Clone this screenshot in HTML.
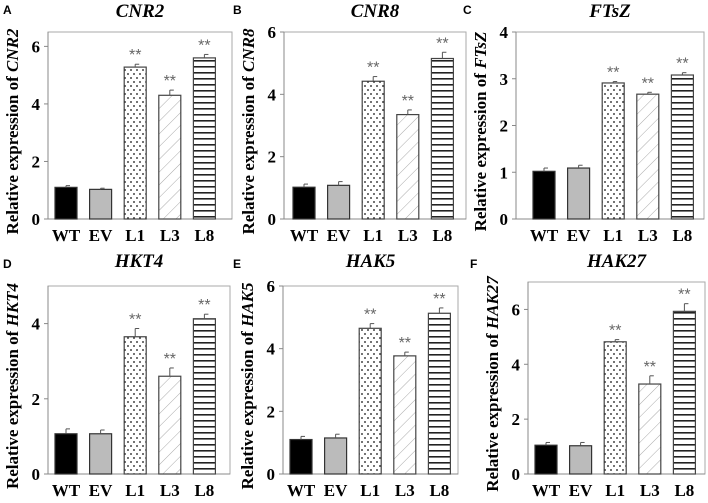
<!DOCTYPE html>
<html><head><meta charset="utf-8"><style>
body{margin:0;background:#fff}
svg{display:block;font-family:"Liberation Serif",serif}
</style></head><body>
<svg id="c" width="708" height="503">
<defs>
<pattern id="dots" width="6" height="8" patternUnits="userSpaceOnUse"><rect width="6" height="8" fill="#fff"/><circle cx="2" cy="2" r="0.9" fill="#111"/><circle cx="5" cy="6" r="0.9" fill="#111"/></pattern>
<pattern id="hatch" width="9" height="9" patternUnits="userSpaceOnUse" patternTransform="rotate(45)"><rect width="9" height="9" fill="#fff"/><line x1="0" y1="0" x2="0" y2="9" stroke="#aaa" stroke-width="1"/></pattern>
<pattern id="stripes" width="4" height="6" patternUnits="userSpaceOnUse"><rect width="4" height="6" fill="#fff"/><rect y="0" width="4" height="1.6" fill="#222"/></pattern>
</defs>
</svg>
<script>
const categories=["WT","EV","L1","L3","L8"];
const genes=["CNR2","CNR8","FTsZ","HKT4","HAK5","HAK27"];
const letters=["A","B","C","D","E","F"];
const valsA=[1.1,1.03,5.28,4.3,5.6];
const valsB=[1.02,1.08,4.42,3.35,5.15];
const valsC=[1.02,1.09,2.91,2.67,3.08];
const valsD=[1.07,1.07,3.65,2.6,4.13];
const valsE=[1.1,1.15,4.65,3.77,5.13];
const valsF=[1.05,1.03,4.82,3.28,5.93];
const errA=[0.06,0.04,0.1,0.18,0.12];
const errB=[0.1,0.12,0.15,0.15,0.2];
const errC=[0.07,0.06,0.03,0.04,0.05];
const errD=[0.13,0.1,0.22,0.22,0.12];
const errE=[0.1,0.12,0.15,0.12,0.17];
const errF=[0.1,0.12,0.08,0.3,0.28];
const sig=[false,false,true,true,true];
const yMax=[6.5,6,4,5,6,7];
const yTicksA=[0,2,4,6],yTicksB=[0,2,4,6],yTicksC=[0,1,2,3,4],yTicksD=[0,2,4],yTicksE=[0,2,4,6],yTicksF=[0,2,4,6];
const vals=[valsA,valsB,valsC,valsD,valsE,valsF];
const errs=[errA,errB,errC,errD,errE,errF];
const ticks=[yTicksA,yTicksB,yTicksC,yTicksD,yTicksE,yTicksF];
// layout
const boxes=[[48,232,32,219],[284,466,32,219],[516,704,32,219],[48,230,286,474],[283,458,286,474],[528,705,282,474]];
const firstBar=[55,293,533,55,290,535];
const letterPos=[[3,14],[233,14],[463,14],[3,268],[233,268],[470,268]];
const fills=["#000","#bbb","url(#dots)","url(#hatch)","url(#stripes)"];
const NS="http://www.w3.org/2000/svg";
const svg=document.getElementById("c");
function mk(tag,attrs,parent){const e=document.createElementNS(NS,tag);for(const k in attrs)e.setAttribute(k,attrs[k]);(parent||svg).appendChild(e);return e;}
for(let p=0;p<6;p++){
  const [L,R,T,B]=boxes[p];
  const g=mk("g",{});
  
  
  const y=v=>B-(v/yMax[p])*(B-T);
  const step=34.6;
  const bw=22;
  mk("rect",{x:L,y:T,width:R-L,height:B-T,fill:"none",stroke:"#aaa","stroke-width":1},g);
  mk("line",{x1:L,y1:T,x2:L,y2:B,stroke:"#888"},g);
  mk("line",{x1:L,y1:B,x2:R,y2:B,stroke:"#888"},g);
  const lt=mk("text",{x:letterPos[p][0],y:letterPos[p][1],"font-family":"Liberation Sans, sans-serif","font-weight":"bold","font-size":12},g);
  lt.textContent=letters[p];
  
  
  const tt=mk("text",{x:(L+R)/2,y:T-15+(p>=3&&p!==5?-4:0),"text-anchor":"middle","font-weight":"bold","font-style":"italic","font-size":19},g);
  tt.textContent=genes[p];
  
  
  const cy=(T+B)/2, lx=L-30;
  const yl=mk("text",{x:lx,y:cy+6,transform:`rotate(-90 ${lx} ${cy+6})`,"text-anchor":"middle","font-weight":"bold","font-size":17},g);
  yl.innerHTML='Relative expression of <tspan font-style="italic">'+genes[p]+'</tspan>';
  
  
  ticks[p].forEach(t=>{
    mk("line",{x1:L-4,y1:y(t),x2:L,y2:y(t),stroke:"#888"},g);
    const tx=mk("text",{x:L-8,y:y(t)+6,"text-anchor":"end","font-weight":"bold","font-size":17},g);
    tx.textContent=t;
    
    
  });
  categories.forEach((c,i)=>{
    const bx=firstBar[p]+i*step;
    const v=vals[p][i], e=errs[p][i];
    const r=mk("rect",{x:bx,y:y(v),width:bw,height:B-y(v),fill:fills[i],stroke:i<2?"#333":"#444","stroke-width":1.2},g);
    
    
    const cx=bx+bw/2;
    mk("line",{x1:cx,y1:y(v),x2:cx,y2:y(v+e),stroke:"#555"},g);
    mk("line",{x1:cx,y1:y(v+e),x2:cx+4,y2:y(v+e),stroke:"#555"},g);
    if(sig[i]){
      const s=mk("text",{x:cx,y:y(v+e)-4,"text-anchor":"middle","font-size":16,fill:"#666","font-family":"Liberation Sans, sans-serif"},g);
      s.textContent="**";
      
      
    }
    const xl=mk("text",{x:cx,y:B+22,"text-anchor":"middle","font-weight":"bold","font-size":17},g);
    xl.textContent=c;
    
    
  });
}
</script>
</body></html>
